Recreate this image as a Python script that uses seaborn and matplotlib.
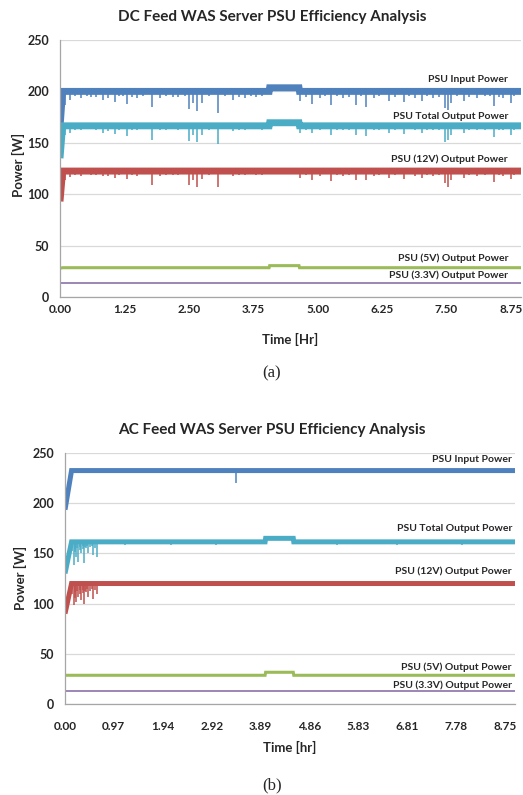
import numpy as np
import matplotlib
matplotlib.use("Agg")
import matplotlib.pyplot as plt
import seaborn as sns

# ---- data ----
# DC feed chart: band centre knots (time in hr, power in W)
dc_time = [0.0, 0.05, 4.06, 4.07, 4.64, 4.65, 8.95]
dc_input = [165, 200, 200, 203.5, 203.5, 200, 200]
dc_total = [135, 166.5, 166.5, 169.5, 169.5, 166.5, 166.5]
dc_12v = [93, 122.5, 122.5, 122.5, 122.5, 122.5, 122.5]
dc_5v = [28, 28.5, 28.5, 30.5, 30.5, 28.5, 28.5]
dc_33v = [13.5, 13.5, 13.5, 13.5, 13.5, 13.5, 13.5]

# DC feed chart: downward spikes (same instants on input / total / 12V)
dc_dip_time = [0.10, 0.20, 0.40, 0.60, 0.83, 0.93, 1.07, 1.30, 1.50, 1.79, 1.95, 2.20,
               2.51, 2.59, 2.66, 2.75, 3.07, 3.35, 3.60, 3.80, 4.66, 4.89, 5.05, 5.27,
               5.50, 5.75, 5.94, 6.10, 6.38, 6.67, 6.90, 7.02, 7.25, 7.47, 7.54, 7.60,
               7.85, 8.10, 8.43, 8.60, 8.75]
dc_input_dip = [187, 192, 194, 195, 192, 194, 190, 188, 194, 184.5, 194, 195,
                183, 189, 181, 189, 178.7, 192, 194, 195, 191, 188, 194, 187,
                194, 187, 185, 194, 191, 190, 194, 191, 194, 183.5, 182, 189,
                191, 194, 186, 194, 189]
dc_total_dip = [157.6, 160, 162, 163, 160, 161, 159, 157, 162, 152.7, 162, 163,
                152, 158, 150.5, 158, 148.8, 161, 162, 163, 160, 159.5, 162, 157.6,
                162, 158, 157, 162, 160, 159, 162, 160, 162, 151, 153, 158,
                160, 162, 156, 162, 158]
dc_12v_dip = [113.8, 117, 118, 119, 118, 118, 116, 115, 118, 109, 118, 119,
              109, 114, 106.7, 115, 106.7, 118, 119, 119, 116, 114, 118, 113,
              118, 114, 113.8, 118, 116, 115, 118, 116, 118, 110.6, 107.3, 114,
              116, 118, 112, 118, 115]

# DC feed chart: shallow ragged dips along the lower edge of each band
dc_minor_time = [0.30, 0.52, 0.70, 1.15, 1.22, 1.40, 1.62, 2.05, 2.30, 2.42, 2.90,
                 3.20, 3.48, 3.70, 3.92, 4.78, 5.15, 5.38, 5.62, 5.85, 6.20, 6.50,
                 6.78, 7.12, 7.35, 7.70, 7.95, 8.25, 8.35, 8.52, 8.82]
dc_input_minor = [195.5, 196, 195, 195.5, 196, 195, 196, 195.5, 195, 196, 195.5,
                  196, 195, 196, 195.5, 195, 196, 195.5, 195, 196, 195.5, 195,
                  196, 195.5, 195, 196, 195, 195.5, 196, 195, 195.5]
dc_total_minor = [162.5, 163, 162, 162.5, 163, 162, 163, 162.5, 162, 163, 162.5,
                  163, 162, 163, 162.5, 162, 163, 162.5, 162, 163, 162.5, 162,
                  163, 162.5, 162, 163, 162, 162.5, 163, 162, 162.5]
dc_12v_minor = [119, 119.5, 118.5, 119, 119.5, 118.5, 119.5, 119, 118.5, 119.5, 119,
                119.5, 118.5, 119.5, 119, 118.5, 119.5, 119, 118.5, 119.5, 119, 118.5,
                119.5, 119, 118.5, 119.5, 118.5, 119, 119.5, 118.5, 119]

# AC feed chart: band centre knots
ac_time = [0.0, 0.13, 3.98, 3.99, 4.54, 4.55, 8.95]
ac_input = [193.5, 232.5, 232.5, 232.5, 232.5, 232.5, 232.5]
ac_total = [130, 161.5, 161.5, 165, 165, 161.5, 161.5]
ac_12v = [90, 120, 120, 120, 120, 120, 120]
ac_5v = [28.6, 28.6, 28.6, 31.6, 31.6, 28.6, 28.6]
ac_33v = [12.6, 12.6, 12.6, 12.6, 12.6, 12.6, 12.6]

# AC feed chart: spikes
ac_input_dip_time = [3.41]
ac_input_dip = [220.4]
ac_dip_time = [0.06, 0.08, 0.10, 0.12, 0.14, 0.17, 0.19, 0.20, 0.22, 0.24, 0.26, 0.29,
               0.30, 0.32, 0.35, 0.36, 0.38, 0.40, 0.42, 0.44, 0.46, 0.50, 0.53, 0.56,
               0.60, 0.63, 1.20, 2.10, 3.00, 5.40, 6.60, 7.90]
ac_total_dip = [148, 155, 150, 156, 152, 138.4, 154, 151, 146, 155, 141.7, 153,
                156, 150, 154, 157, 140, 156, 155, 157, 150, 156, 157, 148.4,
                155, 146.7, 158.5, 158.5, 158.5, 158.5, 158.5, 158.5]
ac_12v_dip = [104, 110, 108, 112, 110, 98.6, 112, 106, 101.9, 113, 106.9, 110,
              114, 104, 111, 114, 99.6, 113, 112, 115, 107, 113, 115, 105,
              114, 110, 117.5, 117.5, 117.5, 117.5, 117.5, 117.5]

dc_xticklabels = ["0.00", "1.25", "2.50", "3.75", "5.00", "6.25", "7.50", "8.75"]
ac_xticklabels = ["0.00", "0.97", "1.94", "2.92", "3.89", "4.86", "5.83", "6.81", "7.78", "8.75"]
y_ticks = [0, 50, 100, 150, 200, 250]

series_names = ["PSU Input Power", "PSU Total Output Power", "PSU (12V) Output Power",
                "PSU (5V) Output Power", "PSU (3.3V) Output Power"]
colors = ["#4F81BD", "#4BACC6", "#C0504D", "#9BBB59", "#8064A2"]

sns.set_theme(style="white")
plt.rcParams['font.family'] = ['Lato', 'DejaVu Sans']

fig = plt.figure(figsize=(5.23, 7.95), dpi=100)


def draw_panel(ax, t, bands, band_lw, dips, xlim, xticklabels, label_pos, label_x, xpad):
    for vals, col, lw in zip(bands, colors, band_lw):
        sns.lineplot(x=t, y=vals, ax=ax, color=col, lw=lw, estimator=None, sort=False,
                     solid_capstyle="butt", solid_joinstyle="miter")
    for dt, dv, band, col in dips:
        base = np.interp(dt, t, band)
        ax.vlines(dt, dv, base, color=col, lw=1.1)
    ax.set_xlim(*xlim)
    ax.set_ylim(0, 250)
    ax.set_yticks(y_ticks)
    ax.set_yticklabels([str(v) for v in y_ticks], fontweight="bold", fontsize=9)
    ax.set_xticks([float(s) for s in xticklabels])
    ax.set_xticklabels(xticklabels, fontweight="bold", fontsize=8.5)
    ax.tick_params(axis="y", length=0, pad=8)
    ax.tick_params(axis="x", length=0, pad=xpad)
    ax.grid(axis="y", color="#D9D9D9", lw=0.9)
    ax.set_axisbelow(True)
    for s in ["top", "right"]:
        ax.spines[s].set_visible(False)
    for s in ["left", "bottom"]:
        ax.spines[s].set_color("#A6A6A6")
        ax.spines[s].set_linewidth(0.9)
    for name, yv in zip(series_names, label_pos):
        ax.text(label_x, yv, name, ha="right", va="center", fontsize=7.5, fontweight="bold")


ax1 = fig.add_axes([60 / 523, 1 - 297 / 795, 461 / 523, 257 / 795])
draw_panel(ax1, dc_time,
           [dc_input, dc_total, dc_12v, dc_5v, dc_33v], [5, 5, 5, 2.2, 1.1],
           [(dc_dip_time, dc_input_dip, dc_input, colors[0]),
            (dc_dip_time, dc_total_dip, dc_total, colors[1]),
            (dc_dip_time, dc_12v_dip, dc_12v, colors[2]),
            (dc_minor_time, dc_input_minor, dc_input, colors[0]),
            (dc_minor_time, dc_total_minor, dc_total, colors[1]),
            (dc_minor_time, dc_12v_minor, dc_12v, colors[2])],
           (0, 8.95), dc_xticklabels, [212, 176, 134, 38, 21.4], 8.7, 5)

ax2 = fig.add_axes([65 / 523, 1 - 704 / 795, 450 / 523, 251 / 795])
draw_panel(ax2, ac_time,
           [ac_input, ac_total, ac_12v, ac_5v, ac_33v], [3.6, 3.6, 3.6, 2.2, 1.1],
           [(ac_input_dip_time, ac_input_dip, ac_input, colors[0]),
            (ac_dip_time, ac_total_dip, ac_total, colors[1]),
            (ac_dip_time, ac_12v_dip, ac_12v, colors[2])],
           (0, 8.95), ac_xticklabels, [243.9, 175, 131.8, 37, 19], 8.89, 12)

# titles, axis labels, captions
fig.text(272 / 523, 1 - 17 / 795, "DC Feed WAS Server PSU Efficiency Analysis",
         ha="center", va="center", fontsize=11, fontweight="bold")
fig.text(272 / 523, 1 - 430 / 795, "AC Feed WAS Server PSU Efficiency Analysis",
         ha="center", va="center", fontsize=11, fontweight="bold")
fig.text(290 / 523, 1 - 339 / 795, "Time [Hr]", ha="center", va="center", fontsize=9.5, fontweight="bold")
fig.text(290 / 523, 1 - 747 / 795, "Time [hr]", ha="center", va="center", fontsize=9.5, fontweight="bold")
fig.text(18 / 523, 1 - 165 / 795, "Power [W]", rotation=90, ha="center", va="center",
         fontsize=9.5, fontweight="bold")
fig.text(20 / 523, 1 - 578 / 795, "Power [W]", rotation=90, ha="center", va="center",
         fontsize=9.5, fontweight="bold")
fig.text(272 / 523, 1 - 373 / 795, "(a)", ha="center", va="center", fontsize=12,
         family=["Liberation Serif", "DejaVu Serif"])
fig.text(272 / 523, 1 - 785 / 795, "(b)", ha="center", va="center", fontsize=12,
         family=["Liberation Serif", "DejaVu Serif"])

fig.savefig("out.png", dpi=100)
